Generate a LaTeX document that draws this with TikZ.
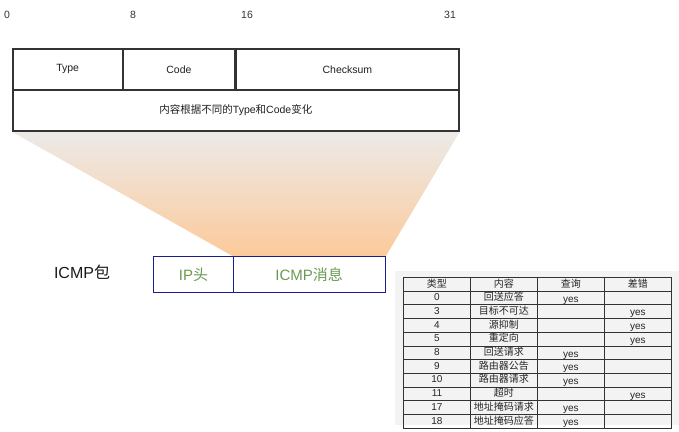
\documentclass[tikz,border=0pt]{standalone}
\usepackage{fontspec}
\setmainfont{Liberation Sans}
\newfontfamily\cjk{Noto Sans CJK SC}
\usetikzlibrary{matrix,backgrounds}
\definecolor{hdrline}{HTML}{333333}
\definecolor{fanTop}{HTML}{ECEAE8}
\definecolor{fanBot}{HTML}{FCCA9A}
\definecolor{pktblue}{HTML}{1C1C8E}
\definecolor{pktgreen}{HTML}{6A9A52}
\definecolor{tabbg}{HTML}{F3F3F3}
\newcommand{\yesmark}{\raisebox{-1.5pt}{yes}}
\begin{document}
\begin{tikzpicture}[x=1pt,y=-1pt,
  field/.style={draw=hdrline,line width=1.8pt,anchor=north west,inner sep=0pt,
    minimum height=41pt,font=\fontsize{10.5}{12}\selectfont,text=black!88},
  bitlabel/.style={font=\fontsize{10.5}{12}\selectfont,text=black!80,inner sep=0pt},
  pkt/.style={draw=pktblue,line width=1.4pt,anchor=north west,inner sep=0pt,
    minimum height=36pt,text=pktgreen,font=\fontsize{15}{17}\selectfont},
  cell/.style={draw=black!80,line width=0.9pt,minimum width=67pt,minimum height=13.7pt,
    inner sep=0pt,text height=7.5pt,text depth=2pt,font=\fontsize{10}{11}\selectfont,text=black!85}]
\useasboundingbox (0,0) rectangle (679,431);
% bit numbers
\node[bitlabel] (b0) at (7,15) {0};
\node[bitlabel] (b8) at (133,15) {8};
\node[bitlabel] (b16) at (247,15) {16};
\node[bitlabel] (b31) at (450,15) {31};
% header fields
\node[field,minimum width=109.5pt] (type) at (12,48) {Type};
\node[field,minimum width=111pt] (code) at (122.5,48) {Code};
\node[field,minimum width=223pt] (cks) at (235,48) {Checksum};
\node[field,minimum width=446pt] (content) at (12,89) {{\cjk 内容根据不同的}Type{\cjk 和}Code{\cjk 变化}};
% packet
\node[font=\fontsize{16}{18}\selectfont,text=black!90] (pktlabel) at (82,272.5) {ICMP{\cjk 包}};
\node[pkt,minimum width=79.5pt] (iph) at (153,256) {IP{\cjk 头}};
\node[pkt,minimum width=152pt] (msg) at (232.5,256) {ICMP{\cjk 消息}};
% funnel and table panel
\begin{scope}[on background layer]
  \shade[top color=fanTop,bottom color=fanBot]
    (content.south west) -- (content.south east) -- (msg.north east) -- (msg.north west) -- cycle;
  \fill[tabbg] (395,271) rectangle (679,425);
\end{scope}
% table
\matrix (tab) [matrix of nodes,anchor=north west,inner sep=0pt,outer sep=0pt,
  column sep=-0.9pt,row sep=-0.9pt,nodes in empty cells,nodes={cell}] at (403,277) {
  {\cjk 类型} & {\cjk 内容} & {\cjk 查询} & {\cjk 差错} \\
  0 & {\cjk 回送应答} & \yesmark & \\
  3 & {\cjk 目标不可达} & & \yesmark \\
  4 & {\cjk 源抑制} & & \yesmark \\
  5 & {\cjk 重定向} & & \yesmark \\
  8 & {\cjk 回送请求} & \yesmark & \\
  9 & {\cjk 路由器公告} & \yesmark & \\
  10 & {\cjk 路由器请求} & \yesmark & \\
  11 & {\cjk 超时} & & \yesmark \\
  17 & {\cjk 地址掩码请求} & \yesmark & \\
  18 & {\cjk 地址掩码应答} & \yesmark & \\
};
\end{tikzpicture}
\end{document}
